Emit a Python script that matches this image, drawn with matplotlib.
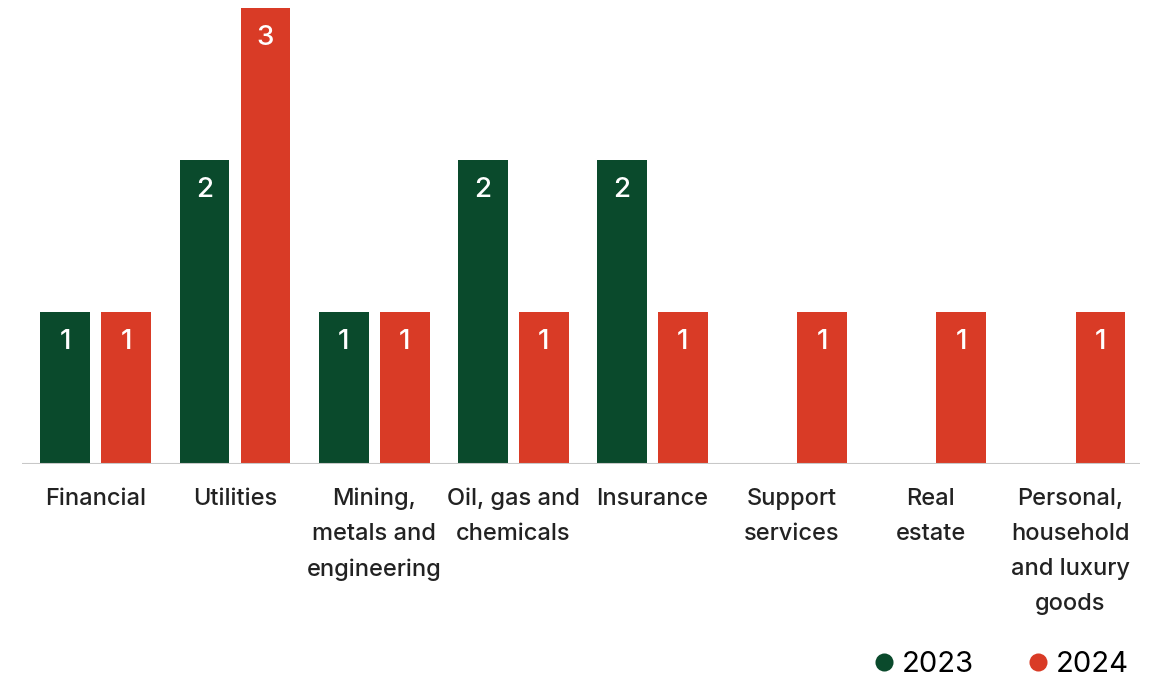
import numpy as np
import matplotlib
matplotlib.use("Agg")
from matplotlib import pyplot as plt
from matplotlib.lines import Line2D

plt.rcParams['font.family'] = ['Inter', 'DejaVu Sans']

categories = ["Financial", "Utilities", "Mining,\nmetals and\nengineering",
              "Oil, gas and\nchemicals", "Insurance", "Support\nservices",
              "Real\nestate", "Personal,\nhousehold\nand luxury\ngoods"]
counts_2023 = [1, 2, 1, 2, 2, 0, 0, 0]
counts_2024 = [1, 3, 1, 1, 1, 1, 1, 1]
years = ["2023", "2024"]

green = "#0a4a2c"
red = "#d93b26"

fig = plt.figure(figsize=(11.57, 6.77), dpi=100)
ax = fig.add_axes([0.019, 0.3146, 0.966, 0.6736])

x = np.arange(len(categories))
w = 0.358
off = 0.219

for xs, vals, col in [(x - off, counts_2023, green), (x + off, counts_2024, red)]:
    for xi, v in zip(xs, vals):
        if v == 0:
            continue
        ax.bar(xi, v, width=w, color=col, zorder=2)
        ax.annotate(str(v), (xi, v), xytext=(0, -21.6), textcoords='offset points',
                    ha='center', va='center', color='white', fontsize=20,
                    fontweight='medium')

ax.set_xlim(-0.53, 7.5)
ax.set_ylim(0, 3)
ax.axhline(0, color='#c8c8c8', lw=1.5, zorder=3)

for s in ax.spines.values():
    s.set_visible(False)
ax.set_xticks([])
ax.set_yticks([])

# category names under each group
for xi, name in zip(x, categories):
    ax.annotate(name, (xi, 0), xytext=(0, -17), textcoords='offset points',
                ha='center', va='top', fontsize=17, color='#222222',
                fontweight='medium', linespacing=1.77)

handles = [Line2D([], [], marker='o', ls='', ms=13, color=c, mec='none')
           for c in (green, red)]
fig.legend(handles, years, loc='lower right', bbox_to_anchor=(0.998, -0.04),
           ncol=2, frameon=False, fontsize=21, handletextpad=0.1,
           columnspacing=1.7, handlelength=1.0)

plt.savefig('out.png', dpi=100)
